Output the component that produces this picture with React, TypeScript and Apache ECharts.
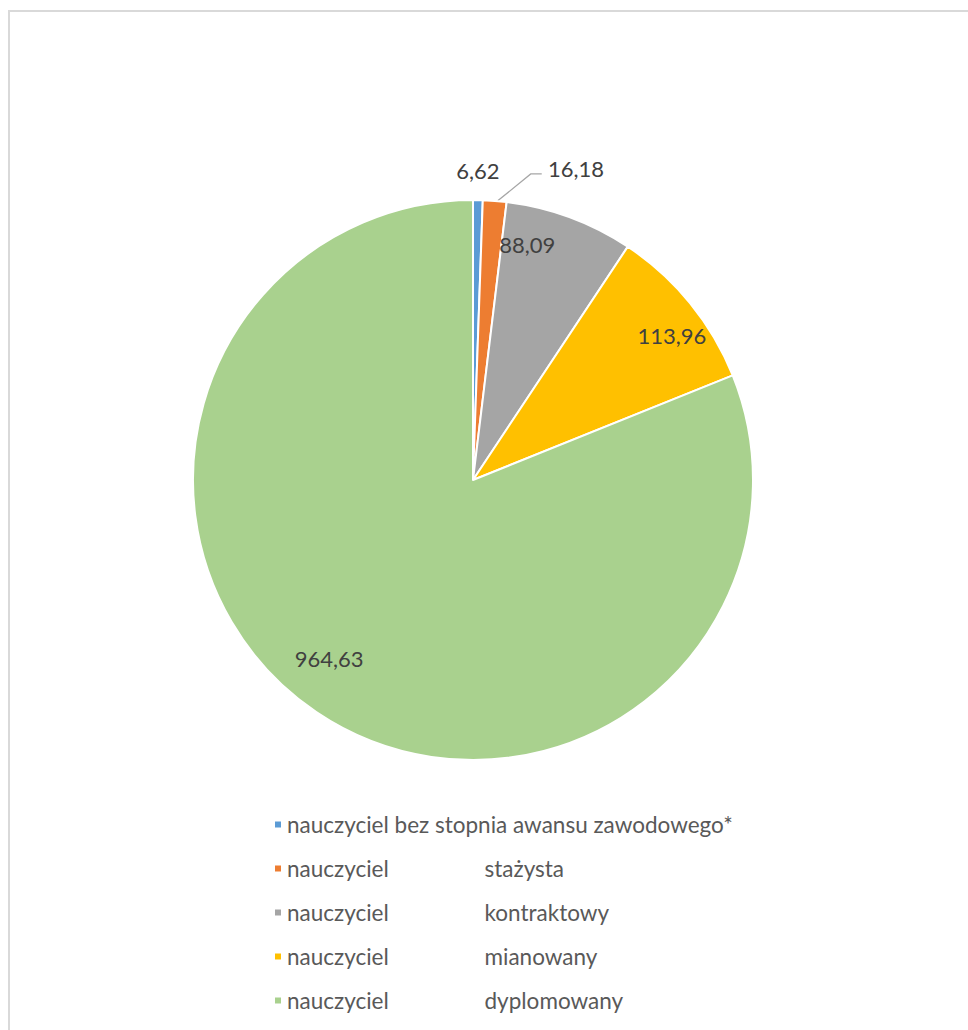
import React, { useEffect, useRef } from "react";
import * as echarts from "echarts";

const categories = [
  "nauczyciel bez stopnia awansu zawodowego*",
  "nauczyciel stażysta",
  "nauczyciel kontraktowy",
  "nauczyciel mianowany",
  "nauczyciel dyplomowany",
];
const values = [6.62, 16.18, 88.09, 113.96, 964.63];
const colors = ["#5B9BD5", "#ED7D31", "#A5A5A5", "#FFC000", "#A9D18E"];
// small nudges of the data labels (Excel "best fit" placement)
const labelNudges = [
  [-27, -16],
  [34, -4],
  [-29, -9],
  [12, 8],
  [-9, -21],
];

const fmt = (v: number) => v.toFixed(2).replace(".", ",");
const FONT = "Lato, 'Open Sans', sans-serif";

export default function App() {
  const ref = useRef<HTMLDivElement>(null);
  useEffect(() => {
    if (!ref.current) return;
    const chart = echarts.init(ref.current, null, { renderer: "svg" });
    const center = [473, 480];
    const R = 280;
    const mainData = values.map((v, i) => ({
      name: categories[i],
      value: v,
      itemStyle: { color: colors[i] },
      label: i <= 1 ? { show: true, position: "outside" } : { show: false },
      labelLine:
        i === 0
          ? { show: false, length: 14, length2: 0 }
          : i === 1
          ? { show: true, length: 28, length2: 12 }
          : { show: false },
    }));
    const ringData = values.map((v, i) => ({
      name: categories[i],
      value: v,
      label: { show: i >= 2 },
    }));
    const nudge = (p: any) => {
      const d = labelNudges[p.dataIndex];
      return { dx: d[0], dy: d[1] };
    };
    const mainLayout = (p: any) => {
      if (p.dataIndex === 0) return nudge(p);
      if (p.dataIndex === 1) {
        const out: any = nudge(p);
        const pts = p.labelLinePoints;
        if (pts && pts.length === 3) {
          const y = pts[2][1] + 1;
          out.labelLinePoints = [
            [pts[0][0] + 3, pts[0][1]],
            [pts[0][0] + 36, y],
            [pts[0][0] + 47, y],
          ];
        }
        return out;
      }
      return {};
    };
    chart.setOption({
      animation: false,
      backgroundColor: "#ffffff",
      graphic: [
        {
          type: "rect",
          shape: { x: 9, y: 11, width: 1000, height: 1100 },
          style: { fill: "none", stroke: "#d9d9d9", lineWidth: 2 },
          silent: true,
        },
      ],
      legend: {
        orient: "vertical",
        left: 268,
        top: 808,
        itemWidth: 8,
        itemHeight: 8,
        itemGap: 21,
        icon: "rect",
        data: categories,
        formatter: (name: string) => {
          if (name === categories[0]) return name;
          const k = name.indexOf(" ");
          return `{a|${name.slice(0, k)}}{b|${name.slice(k + 1)}}`;
        },
        textStyle: {
          fontFamily: FONT,
          fontSize: 22.5,
          color: "#595959",
          rich: {
            a: { fontFamily: FONT, fontSize: 22.5, color: "#595959", width: 197.5 },
            b: { fontFamily: FONT, fontSize: 22.5, color: "#595959" },
          },
        },
      },
      series: [
        {
          type: "pie",
          center,
          radius: [0, R],
          startAngle: 90,
          clockwise: true,
          avoidLabelOverlap: false,
          itemStyle: { borderColor: "#ffffff", borderWidth: 2 },
          label: {
            formatter: (p: any) => fmt(p.value),
            fontFamily: FONT,
            fontSize: 22,
            color: "#404040",
            distanceToLabelLine: 5,
          },
          labelLine: { lineStyle: { color: "#a6a6a6", width: 1.3 } },
          labelLayout: mainLayout,
          emphasis: { disabled: true },
          data: mainData,
        },
        {
          type: "pie",
          center,
          radius: [R * 0.7, R],
          startAngle: 90,
          clockwise: true,
          silent: true,
          avoidLabelOverlap: false,
          itemStyle: { color: "rgba(0,0,0,0)", borderWidth: 0 },
          label: {
            position: "inside",
            formatter: (p: any) => fmt(p.value),
            fontFamily: FONT,
            fontSize: 22,
            color: "#404040",
          },
          labelLine: { show: false },
          labelLayout: nudge,
          emphasis: { disabled: true },
          data: ringData,
        },
      ],
    });
    return () => chart.dispose();
  }, []);
  return (
    <div
      ref={ref}
      style={{ position: "fixed", left: 0, top: 0, width: 968, height: 1030 }}
    />
  );
}
